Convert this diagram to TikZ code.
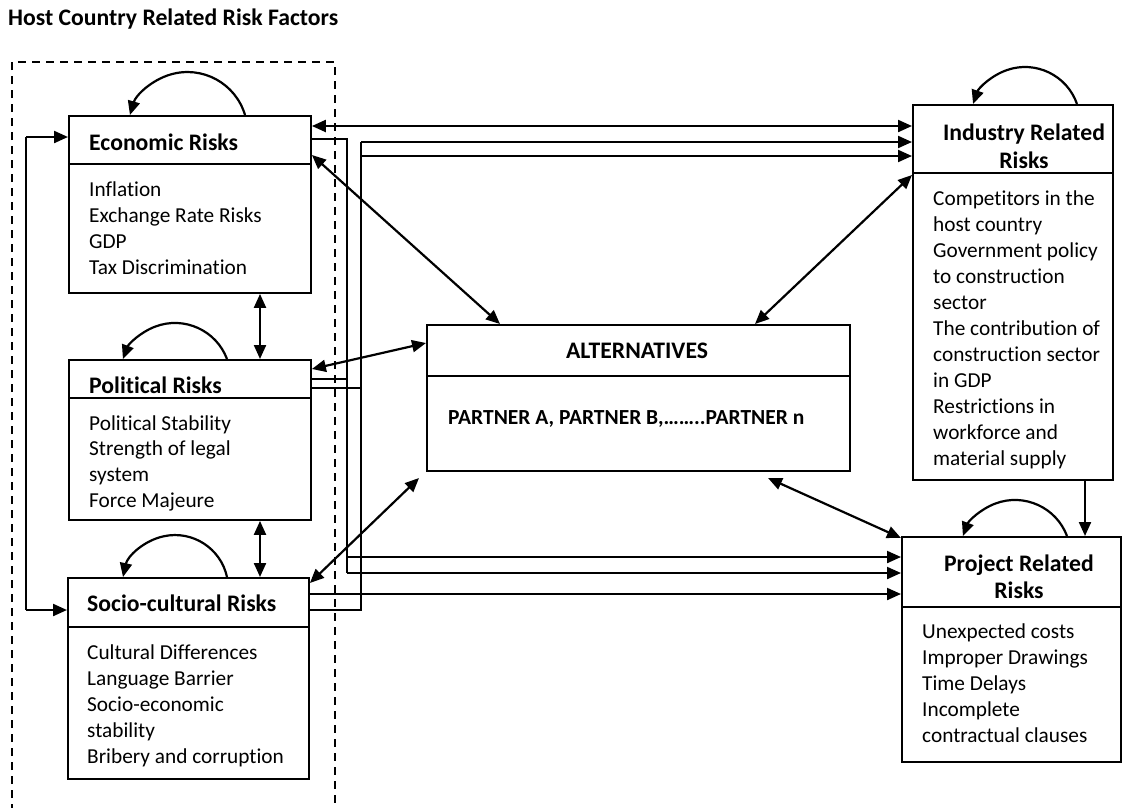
\documentclass[tikz,border=0pt]{standalone}
\usepackage{fontspec}
\setmainfont{Carlito}[Ligatures=NoCommon]
\usetikzlibrary{arrows.meta}
\begin{document}
\begin{tikzpicture}[x=1pt,y=-1pt,
  box/.style={draw, line width=1.9pt, inner sep=0pt, anchor=north west},
  div/.style={line width=1.9pt},
  tip/.tip={Triangle[length=14pt,width=12pt]},
  arr/.style={line width=2.2pt, -tip},
  darr/.style={line width=2.2pt, tip-tip},
  bus/.style={line width=1.5pt},
  busarr/.style={line width=2.1pt, -tip},
  frame/.style={line width=2.2pt, dash pattern=on 8pt off 6pt},
  item/.style={anchor=base west, inner sep=0pt, font=\fontsize{21.3}{26}\selectfont},
  hdr/.style={anchor=base west, inner sep=0pt, font=\fontsize{23.7}{29}\selectfont\bfseries},
  chdr/.style={anchor=base, inner sep=0pt, font=\fontsize{23.7}{29}\selectfont\bfseries}]
\useasboundingbox (0,0) rectangle (1132,807);

% title
\node[hdr] (title) at (8,25) {Host Country Related Risk Factors};

% dashed frame
\coordinate (fbl) at (12,812);
\coordinate (ftl) at (12,62);
\coordinate (ftr) at (335,62);
\coordinate (fbr) at (335,812);
\draw[frame] (fbl) -- (ftl) -- (ftr) -- (fbr);

% boxes
\node[box, minimum width=242, minimum height=177] (econ) at (68,115) {};
\node[box, minimum width=242, minimum height=160] (pol) at (68,359) {};
\node[box, minimum width=241, minimum height=201] (soc) at (67,577) {};
\node[box, minimum width=423, minimum height=146] (alt) at (426,324) {};
\node[box, minimum width=200, minimum height=375] (ind) at (912,104) {};
\node[box, minimum width=219, minimum height=225] (proj) at (901,536) {};

\draw[div] (econ.west |- 0,164) -- (econ.east |- 0,164);
\draw[div] (pol.west |- 0,398) -- (pol.east |- 0,398);
\draw[div] (soc.west |- 0,627) -- (soc.east |- 0,627);
\draw[div] (alt.west |- 0,376) -- (alt.east |- 0,376);
\draw[div] (ind.west |- 0,173) -- (ind.east |- 0,173);
\draw[div] (proj.west |- 0,607) -- (proj.east |- 0,607);

% texts
\node[hdr] (econh) at (89,150) {Economic Risks};
\foreach \t [count=\i from 0] in {Inflation, Exchange Rate Risks, GDP, Tax Discrimination}
  \node[item] (econt\i) at (89,{196+26*\i}) {\t};

\node[hdr] (polh) at (89,393) {Political Risks};
\foreach \t [count=\i from 0] in {Political Stability, Strength of legal, system, Force Majeure}
  \node[item] (polt\i) at (89,{430+25.7*\i}) {\t};

\node[hdr] (soch) at (87,611) {Socio-cultural Risks};
\foreach \t [count=\i from 0] in {Cultural Differences, Language Barrier, Socio-economic, stability, Bribery and corruption}
  \node[item] (soct\i) at (87,{659+26*\i}) {\t};

\node[chdr] (alth) at (637,358) {ALTERNATIVES};
\node[anchor=base west, inner sep=0pt, font=\fontsize{21.5}{26}\selectfont\bfseries] (altt) at (448,424) {PARTNER A, PARTNER B,……..PARTNER n};

\node[chdr] (indh1) at (1024,140) {Industry Related};
\node[chdr] (indh2) at (1024,168) {Risks};
\foreach \t [count=\i from 0] in {Competitors in the, host country, Government policy, to construction, sector, The contribution of, construction sector, in GDP, Restrictions in, workforce and, material supply}
  \node[item] (indt\i) at (933,{205+26*\i}) {\t};

\node[chdr] (projh1) at (1019,571) {Project Related};
\node[chdr] (projh2) at (1019,598) {Risks};
\foreach \t [count=\i from 0] in {Unexpected costs, Improper Drawings, Time Delays, Incomplete, contractual clauses}
  \node[item] (projt\i) at (922,{638+26*\i}) {\t};

% self loops
\draw[arr] (econ.north -| 245,0) arc[start angle=-16.5, end angle=-163.5, radius=60];
\draw[arr] (pol.north -| 227,0) arc[start angle=-20.6, end angle=-159.4, radius=55.6];
\draw[arr] (soc.north -| 227,0) arc[start angle=-12.2, end angle=-167.8, radius=53.2];
\draw[arr] (ind.north -| 1077,0) arc[start angle=-19.1, end angle=-160.9, radius=55];
\draw[arr] (proj.north -| 1067,0) arc[start angle=-20.6, end angle=-159.4, radius=55.6];

% vertical links on the left
\draw[darr] (econ.south -| 260,0) -- (pol.north -| 260,0);
\draw[darr] (pol.south -| 260,0) -- (soc.north -| 260,0);
\coordinate (lt) at (26,137);
\coordinate (lb) at (26,610);
\draw[arr] (lt) -- (econ.west |- lt);
\draw[arr] (lb) -- (soc.west |- lb);
\draw[line width=2.2pt] (lt) -- (lb);

% industry -> project
\draw[arr] (ind.south -| 1085,0) -- (proj.north -| 1085,0);

% links with alternatives
\draw[darr] (econ.east |- 0,155) -- (alt.north -| 500,0);
\draw[darr] (pol.east |- 0,369) -- (alt.west |- 0,343);
\draw[darr] (ind.west |- 0,175) -- (alt.north -| 755,0);
\coordinate (altsw) at (419,478);
\coordinate (altse) at (768,478);
\draw[darr] (soc.east |- 0,583) -- (altsw);
\draw[darr] (proj.west |- 0,538) -- (altse);

% economic <-> industry
\draw[darr] (econ.east |- 0,126) -- (ind.west |- 0,126);

% bus A (x=347)
\coordinate (a1) at (347,139);
\coordinate (a2) at (347,573);
\coordinate (a3) at (347,557);
\draw[bus] (econ.east |- a1) -- (a1) -- (a2);
\draw[bus] (pol.east |- 0,379) -- (347,379);
\draw[busarr] (a2) -- (proj.west |- a2);
\draw[busarr] (a3) -- (proj.west |- a3);

% bus B (x=361)
\coordinate (b1) at (361,142);
\coordinate (b2) at (361,156);
\coordinate (b3) at (361,610);
\draw[busarr] (b1) -- (ind.west |- b1);
\draw[busarr] (b2) -- (ind.west |- b2);
\draw[bus] (b1) -- (b3) -- (soc.east |- b3);
\draw[bus] (pol.east |- 0,388) -- (361,388);
\draw[busarr] (soc.east |- 0,594) -- (proj.west |- 0,594);
\end{tikzpicture}
\end{document}
